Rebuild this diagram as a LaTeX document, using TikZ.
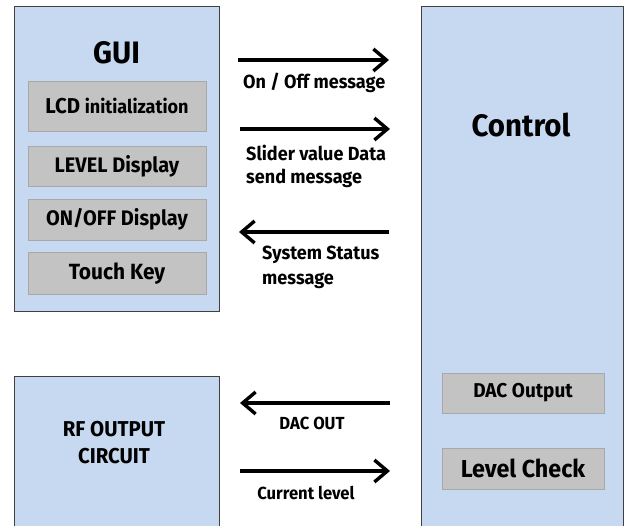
\documentclass[tikz,border=0pt]{standalone}
\usepackage{fontspec}
\setmainfont{Fira Sans}[FakeStretch=0.95]
\usetikzlibrary{arrows.meta}
\definecolor{boxblue}{HTML}{C6D9F1}
\definecolor{subgray}{HTML}{C3C3C3}
\definecolor{subedge}{HTML}{A8A8A8}
\definecolor{outedge}{HTML}{404040}
\tikzset{
  bigbox/.style={draw=outedge, line width=1pt, fill=boxblue, rectangle, inner sep=0pt},
  subbox/.style={draw=subedge, line width=0.8pt, fill=subgray, rectangle, inner sep=0pt, font=\bfseries\fontsize{21}{23}\selectfont},
  msg/.style={line width=4pt, -{Straight Barb[length=13pt,width=22pt,line width=3.4pt]}},
  lbl/.style={font=\bfseries\fontsize{19}{24}\selectfont, inner sep=0pt, align=left},
}
\begin{document}
\begin{tikzpicture}[x=1pt,y=-1pt]
\useasboundingbox (0,0) rectangle (627,526);
\clip (0,0) rectangle (627,526);
\fill[white] (0,0) rectangle (627,526);
% big boxes
\node[bigbox, minimum width=205pt, minimum height=305pt] (gui) at (116.5,159.5) {};
\node[bigbox, minimum width=205pt, minimum height=160pt] (rf) at (116.5,457) {};
\node[bigbox, minimum width=202pt, minimum height=530pt] (ctrl) at (522.5,272) {};
% titles
\node[font=\bfseries\fontsize{31}{32}\selectfont, inner sep=0pt] (guit) at (116.5,53) {GUI};
\node[font=\bfseries\fontsize{31}{32}\selectfont, inner sep=0pt] (ctrlt) at (521,125) {Control};
\node[font=\bfseries\fontsize{21.5}{27}\selectfont, inner sep=0pt, align=center] (rft) at (114,443) {RF OUTPUT\\CIRCUIT};
% GUI sub boxes
\node[subbox, minimum width=178pt, minimum height=50pt] (lcd) at (117,106) {{\fontsize{21.5}{23}\selectfont LCD} {\fontsize{19}{23}\selectfont initialization}};
\node[subbox, minimum width=178pt, minimum height=40pt] (lvl) at (117,166) {LEVEL Display};
\node[subbox, minimum width=178pt, minimum height=41pt] (onoff) at (117,219.5) {ON/OFF Display};
\node[subbox, minimum width=178pt, minimum height=42pt, font=\bfseries\fontsize{22}{24}\selectfont] (touch) at (117,273.5) {Touch Key};
% Control sub boxes
\node[subbox, minimum width=162pt, minimum height=40pt, font=\bfseries\fontsize{20}{22}\selectfont] (dac) at (523,393) {DAC Output};
\node[subbox, minimum width=162pt, minimum height=41pt, font=\bfseries\fontsize{24.5}{26}\selectfont] (chk) at (523,468.5) {Level Check};
% arrow end points
\coordinate (a1s) at (238,60);  \coordinate (a1e) at (389,60);
\coordinate (a2s) at (240,129); \coordinate (a2e) at (390,129);
\coordinate (a3s) at (389,232); \coordinate (a3e) at (239,232);
\coordinate (a4s) at (390,403); \coordinate (a4e) at (240,403);
\coordinate (a5s) at (240,471); \coordinate (a5e) at (390,471);
\draw[msg] (a1s) -- (a1e);
\draw[msg] (a2s) -- (a2e);
\draw[msg] (a3s) -- (a3e);
\draw[msg] (a4s) -- (a4e);
\draw[msg] (a5s) -- (a5e);
% labels
\node[lbl, anchor=west] (l1) at (243,83) {On / Off message};
\node[lbl, anchor=west, font=\bfseries\fontsize{19}{23}\selectfont] (l2) at (246,166.5) {Slider value Data\\send message};
\node[lbl, anchor=west, font=\bfseries\fontsize{19}{25}\selectfont] (l3) at (262,267.5) {System Status\\message};
\node[lbl, font=\bfseries\fontsize{17.5}{20}\selectfont] (l4) at (312,423) {DAC OUT};
\node[lbl, font=\bfseries\fontsize{17.5}{20}\selectfont] (l5) at (306,493) {Current level};
\end{tikzpicture}
\end{document}
